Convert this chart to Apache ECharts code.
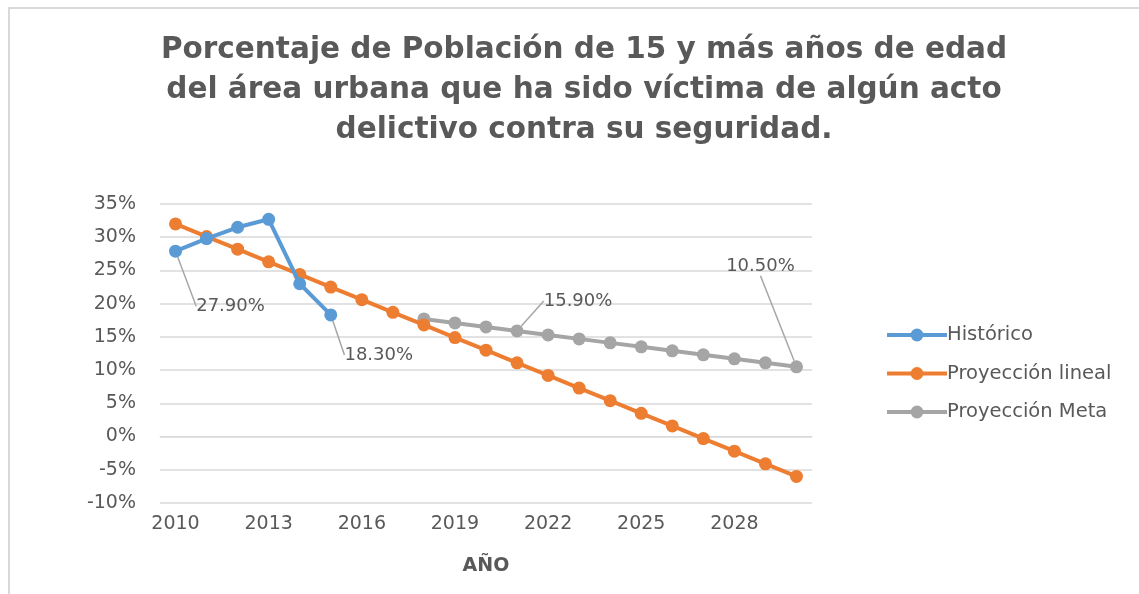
<!DOCTYPE html>
<html>
<head>
<meta charset="utf-8">
<title>Porcentaje de Población víctima de acto delictivo</title>
<script src="https://cdn.jsdelivr.net/npm/echarts@6/dist/echarts.min.js"></script>
<style>
  html, body { margin: 0; padding: 0; background: #fff; overflow: hidden; }
  #chart { width: 1139px; height: 594px; }
</style>
</head>
<body>
<div id="chart"></div>
<script>
// años (eje X)
var years = ['2010', '2011', '2012', '2013', '2014', '2015', '2016', '2017', '2018', '2019', '2020',
  '2021', '2022', '2023', '2024', '2025', '2026', '2027', '2028', '2029', '2030']

// valores en %
var historico = [27.9, 29.8, 31.5, 32.7, 23.0, 18.3, null, null, null, null, null,
  null, null, null, null, null, null, null, null, null, null]
var proyeccionLineal = [32.0, 30.1, 28.2, 26.3, 24.4, 22.5, 20.6, 18.7, 16.8, 14.9, 13.0,
  11.1, 9.2, 7.3, 5.4, 3.5, 1.6, -0.3, -2.2, -4.1, -6.0]
var proyeccionMeta = [null, null, null, null, null, null, null, null, 17.7, 17.1, 16.5,
  15.9, 15.3, 14.7, 14.1, 13.5, 12.9, 12.3, 11.7, 11.1, 10.5]

// puntos con etiqueta
var histLabeled = [0, 5]
var metaLabeled = [11, 20]

var font = 'DejaVu Sans'
var textColor = '#595959'

function withLabels (values, labeled) {
  return values.map(function (v, i) {
    if (labeled.indexOf(i) < 0 || v === null) return v
    return {
      value: v,
      label: {
        show: true,
        position: 'inside',
        formatter: v.toFixed(2) + '%',
        color: textColor,
        fontSize: 18,
        fontFamily: font
      },
      labelLine: { show: true, lineStyle: { color: '#a6a6a6', width: 1.5 } }
    }
  })
}

// desplazamiento de las etiquetas
var histOffsets = { 0: [55, 55], 5: [48, 40] }
var metaOffsets = { 11: [61, -30], 20: [-36, -100] }

var chart = echarts.init(document.getElementById('chart'))
chart.setOption({
  animation: false,
  backgroundColor: '#fff',
  color: ['#5B9BD5', '#ED7D31', '#A5A5A5'],
  textStyle: { fontFamily: font },
  // marco del gráfico (arriba e izquierda)
  graphic: [
    { type: 'line', shape: { x1: 8, y1: 8, x2: 1160, y2: 8 }, style: { stroke: '#d9d9d9', lineWidth: 2 }, silent: true },
    { type: 'line', shape: { x1: 9, y1: 8, x2: 9, y2: 620 }, style: { stroke: '#d9d9d9', lineWidth: 2 }, silent: true }
  ],
  title: {
    text: 'Porcentaje de Población de 15 y más años de edad\ndel área urbana que ha sido víctima de algún acto\ndelictivo contra su seguridad.',
    left: 579,
    top: 25,
    textAlign: 'center',
    textStyle: {
      fontFamily: font,
      fontSize: 29.5,
      fontWeight: 'bold',
      color: textColor,
      lineHeight: 40
    }
  },
  legend: {
    orient: 'vertical',
    left: 880,
    top: 320,
    itemWidth: 60,
    itemHeight: 16,
    itemGap: 18.5,
    lineStyle: { width: 4 },
    textStyle: { fontSize: 19.5, color: textColor, fontFamily: font, padding: [0, 0, 0, -5] },
    data: ['Histórico', 'Proyección lineal', 'Proyección Meta']
  },
  grid: {
    left: 160,
    right: 327,
    top: 204,
    bottom: 91
  },
  xAxis: {
    type: 'category',
    data: years,
    boundaryGap: true,
    name: 'AÑO',
    nameLocation: 'middle',
    nameGap: 54,
    nameTextStyle: { fontSize: 19, fontWeight: 'bold', color: textColor, fontFamily: font },
    axisLine: { lineStyle: { color: '#d9d9d9' } },
    axisTick: { show: false },
    axisLabel: { interval: 2, fontSize: 19, color: textColor, margin: 12, fontFamily: font }
  },
  yAxis: {
    type: 'value',
    min: -10,
    max: 35,
    interval: 5,
    axisLine: { show: false },
    axisTick: { show: false },
    axisLabel: { formatter: '{value}%', fontSize: 19, color: textColor, margin: 24, fontFamily: font },
    splitLine: { lineStyle: { color: '#d9d9d9', width: 1.5 } }
  },
  series: [
    {
      name: 'Histórico',
      type: 'line',
      data: withLabels(historico, histLabeled),
      symbol: 'circle',
      symbolSize: 13,
      lineStyle: { width: 4 },
      z: 4,
      labelLayout: function (p) {
        var o = histOffsets[p.dataIndex]
        return o ? { dx: o[0], dy: o[1] } : {}
      }
    },
    {
      name: 'Proyección lineal',
      type: 'line',
      data: proyeccionLineal,
      symbol: 'circle',
      symbolSize: 13,
      lineStyle: { width: 4 },
      z: 3
    },
    {
      name: 'Proyección Meta',
      type: 'line',
      data: withLabels(proyeccionMeta, metaLabeled),
      symbol: 'circle',
      symbolSize: 13,
      lineStyle: { width: 4 },
      z: 2,
      labelLayout: function (p) {
        var o = metaOffsets[p.dataIndex]
        return o ? { dx: o[0], dy: o[1] } : {}
      }
    }
  ]
})
</script>
</body>
</html>
